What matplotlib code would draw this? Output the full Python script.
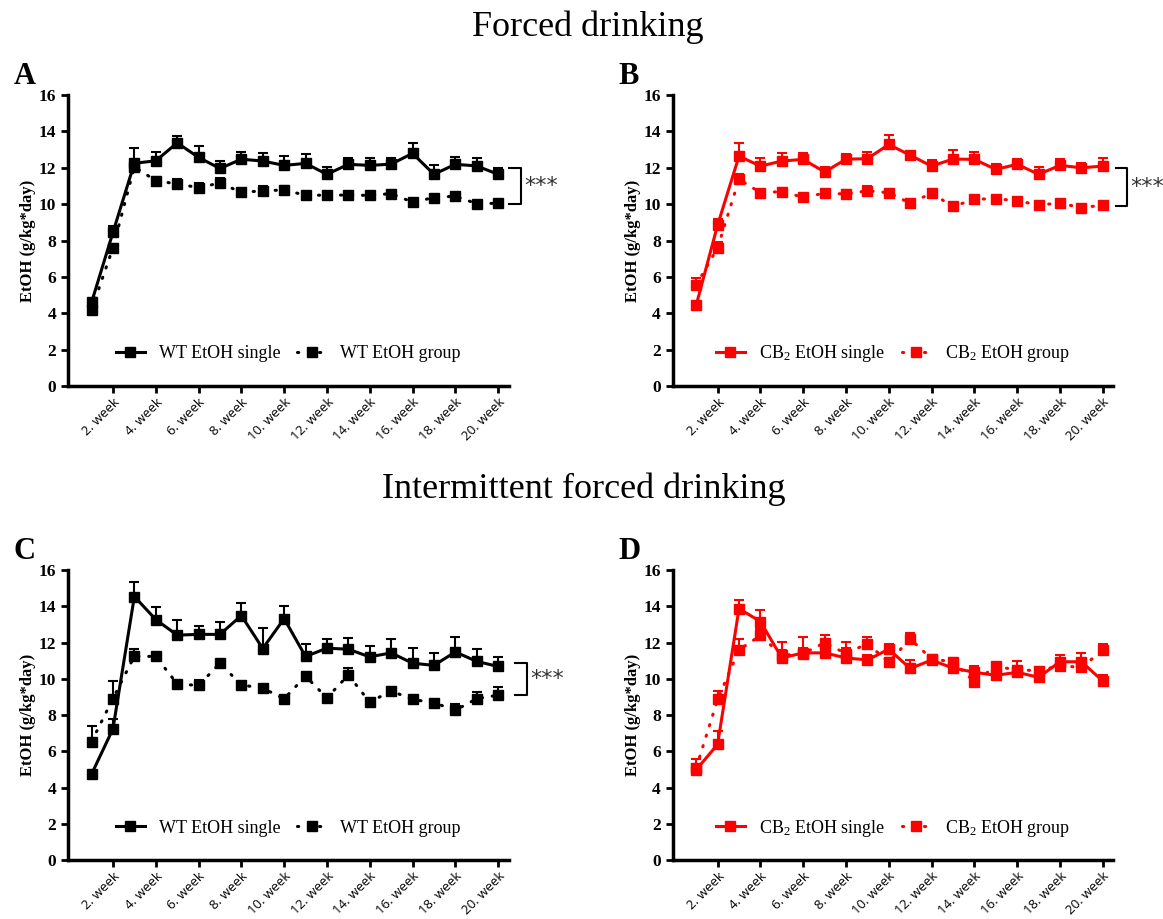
import matplotlib
matplotlib.use("Agg")
import matplotlib.pyplot as plt
from matplotlib.lines import Line2D
import numpy as np

plt.rcParams['font.family'] = ['Liberation Serif', 'DejaVu Serif']
plt.rcParams['mathtext.default'] = 'regular'

weeks = np.arange(1, 21)
tick_weeks = [2, 4, 6, 8, 10, 12, 14, 16, 18, 20]
tick_labels = ['2. week', '4. week', '6. week', '8. week', '10. week',
               '12. week', '14. week', '16. week', '18. week', '20. week']

# panel A - forced drinking, WT
A_single = [4.6, 8.45, 12.25, 12.38, 13.37, 12.57, 11.96, 12.47, 12.37, 12.13,
            12.24, 11.64, 12.19, 12.13, 12.2, 12.79, 11.64, 12.19, 12.1, 11.64]
A_single_err = [0.15, 0.33, 0.86, 0.5, 0.38, 0.65, 0.42, 0.42, 0.45, 0.5,
                0.49, 0.42, 0.33, 0.4, 0.36, 0.58, 0.53, 0.4, 0.42, 0.33]
A_group = [4.2, 7.6, 12.05, 11.29, 11.11, 10.91, 11.16, 10.65, 10.73, 10.78,
           10.49, 10.49, 10.5, 10.48, 10.58, 10.11, 10.36, 10.44, 10.02, 10.05]
A_group_err = [0.15, 0.2, 0.2, 0.2, 0.25, 0.25, 0.25, 0.15, 0.25, 0.2,
               0.15, 0.15, 0.15, 0.15, 0.15, 0.15, 0.15, 0.15, 0.15, 0.15]

# panel B - forced drinking, CB2
B_single = [4.45, 8.85, 12.64, 12.09, 12.37, 12.46, 11.77, 12.47, 12.5, 13.28,
            12.69, 12.09, 12.48, 12.46, 11.91, 12.19, 11.64, 12.13, 12.0, 12.09]
B_single_err = [0.2, 0.33, 0.73, 0.42, 0.42, 0.33, 0.29, 0.27, 0.35, 0.51,
                0.2, 0.33, 0.47, 0.42, 0.31, 0.29, 0.38, 0.33, 0.27, 0.45]
B_group = [5.55, 7.6, 11.37, 10.63, 10.69, 10.38, 10.6, 10.56, 10.73, 10.63,
           10.05, 10.6, 9.87, 10.27, 10.3, 10.18, 9.96, 10.05, 9.81, 9.94]
B_group_err = [0.4, 0.3, 0.3, 0.15, 0.2, 0.2, 0.2, 0.2, 0.25, 0.2,
               0.15, 0.25, 0.15, 0.15, 0.15, 0.15, 0.15, 0.1, 0.1, 0.1]

# panel C - intermittent forced drinking, WT
C_single = [4.75, 7.25, 14.55, 13.28, 12.42, 12.46, 12.46, 13.5, 11.68, 13.33,
            11.24, 11.7, 11.64, 11.22, 11.44, 10.87, 10.75, 11.49, 10.97, 10.69]
C_single_err = [0.1, 0.53, 0.78, 0.71, 0.82, 0.49, 0.69, 0.69, 1.15, 0.69,
                0.71, 0.49, 0.62, 0.62, 0.78, 0.82, 0.66, 0.8, 0.67, 0.51]
C_group = [6.54, 8.92, 11.26, 11.24, 9.73, 9.64, 10.87, 9.67, 9.49, 8.91,
           10.15, 8.96, 10.22, 8.72, 9.34, 8.87, 8.69, 8.27, 8.91, 9.11]
C_group_err = [0.86, 0.97, 0.42, 0.1, 0.1, 0.31, 0.1, 0.1, 0.15, 0.15,
               0.15, 0.15, 0.36, 0.15, 0.1, 0.2, 0.1, 0.33, 0.36, 0.42]

# panel D - intermittent forced drinking, CB2
D_single = [4.99, 6.39, 13.88, 13.17, 11.16, 11.44, 11.44, 11.16, 11.05, 11.64,
            10.58, 11.04, 10.6, 10.37, 10.2, 10.37, 10.09, 10.95, 10.95, 9.89]
D_single_err = [0.3, 0.73, 0.47, 0.64, 0.87, 0.87, 0.6, 0.87, 0.3, 0.3,
                0.46, 0.29, 0.3, 0.36, 0.2, 0.62, 0.2, 0.38, 0.47, 0.33]
D_group = [5.1, 8.87, 11.6, 12.4, 11.3, 11.4, 12.0, 11.4, 11.95, 10.93,
           12.22, 11.1, 10.95, 9.85, 10.69, 10.5, 10.46, 10.73, 10.64, 11.58]
D_group_err = [0.5, 0.49, 0.58, 0.38, 0.3, 0.3, 0.44, 0.3, 0.36, 0.2,
               0.33, 0.2, 0.2, 0.2, 0.2, 0.2, 0.2, 0.2, 0.2, 0.36]

panels = [
    ('A', [0.0585, 0.580, 0.379, 0.3166], 'black', 'WT', A_single, A_single_err, A_group, A_group_err, (12, 10, 20.5, 21.05)),
    ('B', [0.5784, 0.580, 0.379, 0.3166], '#ff0000', 'CB$_2$', B_single, B_single_err, B_group, B_group_err, (12, 9.9, 20.6, 21.15)),
    ('C', [0.0585, 0.064, 0.379, 0.3155], 'black', 'WT', C_single, C_single_err, C_group, C_group_err, (10.9, 9.1, 20.8, 21.35)),
    ('D', [0.5784, 0.064, 0.379, 0.3155], '#ff0000', 'CB$_2$', D_single, D_single_err, D_group, D_group_err, None),
]

dot_style = (0, (0.4, 3.2))

fig = plt.figure(figsize=(11.63, 9.19), dpi=100)

for letter, rect, col, name, s, se, g, ge, br in panels:
    ax = fig.add_axes(rect)
    ax.errorbar(weeks, s, yerr=[np.zeros(20), se], color=col, lw=2.2, marker='s', ms=6.5,
                capsize=3.5, elinewidth=1.5, capthick=1.5)
    ax.errorbar(weeks, g, yerr=[np.zeros(20), ge], color=col, lw=2.2, ls=dot_style, marker='s', ms=6.5,
                capsize=3.5, elinewidth=1.5, capthick=1.5, dash_capstyle='round')
    ax.set_xlim(-0.1, 20.5)
    ax.set_ylim(0, 16)
    ax.set_yticks(range(0, 17, 2))
    ax.set_xticks(tick_weeks)
    ax.set_xticklabels(tick_labels, rotation=45, ha='right', rotation_mode='anchor',
                       fontsize=9.5, family='Open Sans')
    for t in ax.get_yticklabels():
        t.set_fontweight('bold')
        t.set_fontsize(12.5)
    ax.tick_params(axis='both', width=2, length=5, direction='out')
    ax.tick_params(axis='x', pad=2)
    for sp in ['top', 'right']:
        ax.spines[sp].set_visible(False)
    for sp in ['left', 'bottom']:
        ax.spines[sp].set_linewidth(2.5)
    ax.set_ylabel('EtOH (g/kg*day)', fontsize=12, fontweight='bold', labelpad=2)
    handles = [Line2D([], [], color=col, lw=2.2, marker='s', ms=6.5),
               Line2D([], [], color=col, lw=2.2, ls=dot_style, marker='s', ms=6.5, dash_capstyle='round')]
    ax.legend(handles, [name + ' EtOH single', name + ' EtOH group'],
              loc='center', bbox_to_anchor=(0.5, 0.11), ncol=2, frameon=False,
              fontsize=13, handlelength=1.6, columnspacing=0.9, handletextpad=0.8)
    if br is not None:
        ytop, ybot, x0, x1 = br
        ax.plot([x0, x1, x1, x0], [ytop, ytop, ybot, ybot], color='black', lw=1.5, clip_on=False)
        ax.text(x1 + 0.15, (ytop + ybot) / 2, '***', fontsize=16, family='DejaVu Sans',
                va='center', ha='left', color='#333333')
    fig.text(rect[0] - 0.047, rect[1] + rect[3] + 0.02, letter, fontsize=22, fontweight='bold',
             ha='left', va='center')

fig.text(0.505, 1 - 27 / 919, 'Forced drinking', fontsize=26, ha='center', va='center')
fig.text(0.502, 1 - 489 / 919, 'Intermittent forced drinking', fontsize=26, ha='center', va='center')

fig.savefig('out.png', dpi=100)
